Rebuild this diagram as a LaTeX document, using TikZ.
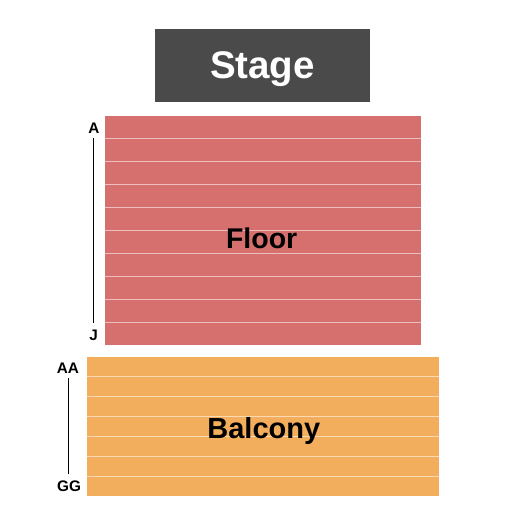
\documentclass[tikz,border=0pt]{standalone}
\usepackage{fontspec}
\setmainfont{Liberation Sans}
\definecolor{stagegray}{HTML}{4A4A4A}
\definecolor{floorred}{HTML}{D6706E}
\definecolor{balcorange}{HTML}{F2AE5C}
\tikzset{
  rowsep/.style={white, opacity=0.55, line width=0.9pt},
  secttext/.style={font=\bfseries\fontsize{28.5}{30}\selectfont, anchor=base, inner sep=0pt},
  rowlabel/.style={font=\bfseries\fontsize{15.3}{16}\selectfont, anchor=base, inner sep=0pt},
  rowline/.style={black, line width=1pt}
}
\begin{document}
\begin{tikzpicture}[x=1pt, y=-1pt]
\useasboundingbox (0,0) rectangle (525,525);
% stage
\fill[stagegray] (155,29) rectangle (370,102);
\node[secttext, white, font=\bfseries\fontsize{38.5}{40}\selectfont] (stage) at (262.5,78) {Stage};
% floor
\fill[floorred] (105,116) rectangle (421,345);
\foreach \i in {1,...,9} {
  \draw[rowsep] (105,{116+\i*22.9}) -- (421,{116+\i*22.9});
}
\node[secttext] (floor) at (261.7,248.3) {Floor};
% balcony
\fill[balcorange] (87,357) rectangle (439,496);
\foreach \i in {1,...,6} {
  \draw[rowsep] (87,{357+\i*19.86}) -- (439,{357+\i*19.86});
}
\node[secttext, font=\bfseries\fontsize{29}{30}\selectfont] (balcony) at (263.8,438.5) {Balcony};
% row labels
\node[rowlabel] (A) at (94,133.3) {A};
\node[rowlabel] (J) at (93.7,340) {J};
\node[rowlabel] (AA) at (68,373.3) {AA};
\node[rowlabel] (GG) at (69,491.7) {GG};
\coordinate (Atop) at (93.3,138);
\coordinate (Jbot) at (93.3,322.7);
\coordinate (AAtop) at (68.3,378);
\coordinate (GGbot) at (68.3,474.3);
\draw[rowline] (Atop) -- (Jbot);
\draw[rowline] (AAtop) -- (GGbot);
\end{tikzpicture}
\end{document}
